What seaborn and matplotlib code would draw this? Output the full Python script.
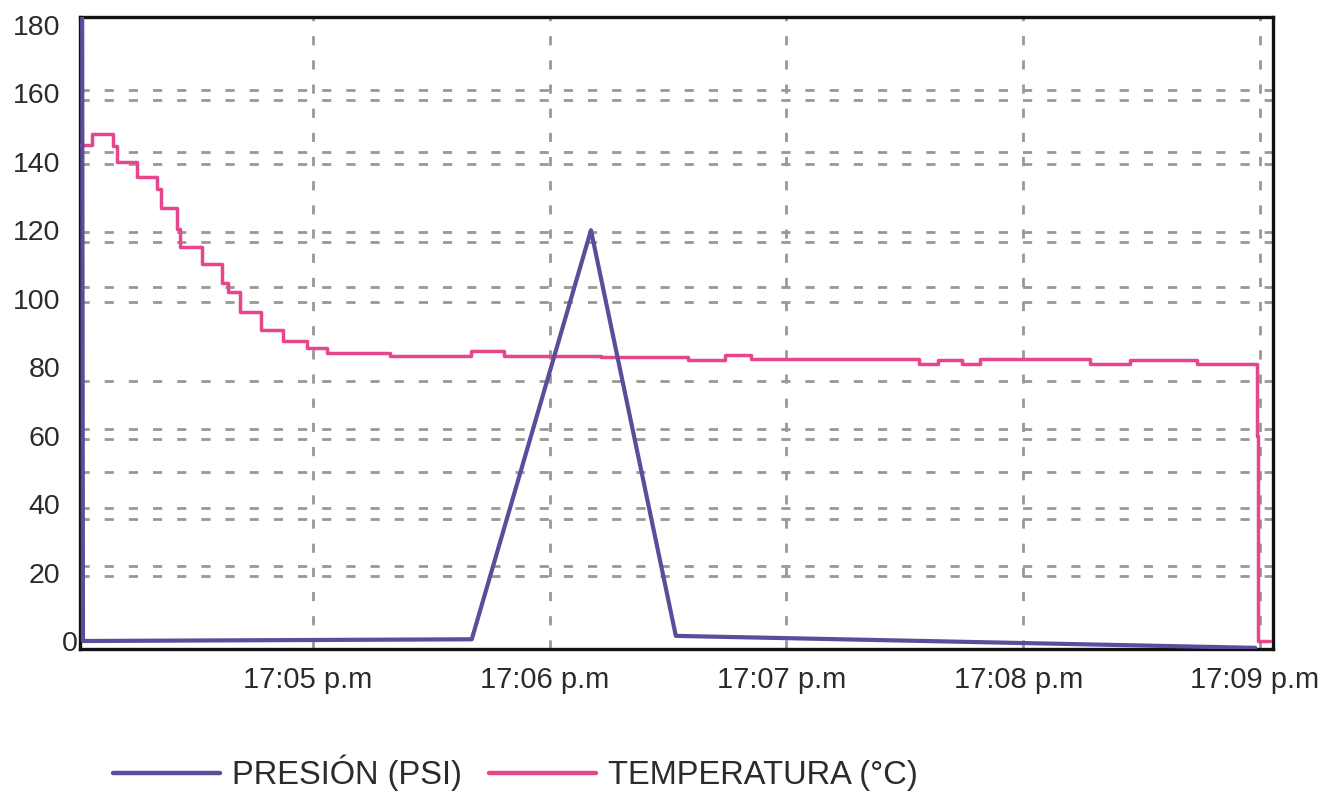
import matplotlib
matplotlib.use('Agg')
from matplotlib import pyplot as plt
from matplotlib.transforms import ScaledTranslation
import seaborn as sns

sns.set_style('white')
plt.rcParams['font.family'] = ['Liberation Sans', 'DejaVu Sans']

# time axis in seconds after 17:04:00
pres_t = [1.6, 1.8, 100.3, 130.5, 152.0, 298.8]
pres_v = [185, 0, 0.5, 120, 1.5, -2]

temp_t = [1, 4, 9.5, 10.5, 15.5, 20.5, 21.5, 25.5, 26.5, 32,
          37, 38.5, 41.5, 47, 52.5, 58.5, 63.5, 79.5, 100, 108.5,
          133, 155, 164.5, 171, 213.5, 218.5, 224.5, 229, 257, 267,
          284, 299.2, 299.6, 302.5]
temp_v = [145, 148, 144.5, 140, 135.5, 132, 126.5, 120.5, 115, 110,
          104.5, 102, 96, 91, 87.5, 85.5, 84, 83.3, 84.7, 83.3,
          83, 82, 83.5, 82.3, 81, 82, 81, 82.5, 81, 82,
          81, 60, 0, 0]

tick_t = [60, 120, 180, 240, 300]
tick_labels = ['17:05 p.m', '17:06 p.m', '17:07 p.m', '17:08 p.m', '17:09 p.m']
y_ticks = list(range(0, 181, 20))

PURPLE = '#5b4c9c'
PINK = '#e8468c'
GRID = '#9c9792'
TEXT = '#2b2b2b'
# the doubled dashed lines of the original
grid_y = [180, 161, 158, 143, 139.5, 119.5, 116.5, 103.5, 99, 80, 76,
          62, 59, 49.5, 39, 35.5, 22, 19]
dash = (0, (3.3, 5.4))

fig, ax = plt.subplots(figsize=(13.24, 7.98), dpi=100)
fig.subplots_adjust(left=0.0604, right=0.9615, top=0.9787, bottom=0.1867)

sns.lineplot(x=temp_t, y=temp_v, ax=ax, color=PINK, lw=2.5, drawstyle='steps-post',
             sort=False, estimator=None, label='TEMPERATURA (°C)', zorder=3)
sns.lineplot(x=pres_t, y=pres_v, ax=ax, color=PURPLE, lw=3.0,
             sort=False, estimator=None, label='PRESIÓN (PSI)', zorder=4)

ax.set_xlim(1.04, 303.3)
ax.set_ylim(-2.34, 182.3)
ax.set_xticks(tick_t, tick_labels)
ax.set_yticks(y_ticks)
ax.set_yticks(grid_y, minor=True)
ax.set_xlabel('')
ax.set_ylabel('')

ax.grid(False)
ax.set_axisbelow(True)
ax.xaxis.grid(True, which='major', color=GRID, lw=2.0, ls=dash)
ax.yaxis.grid(True, which='minor', color=GRID, lw=2.0, ls=dash)
ax.tick_params(axis='both', which='both', length=0)
ax.tick_params(axis='x', labelsize=21, pad=12.5, labelcolor=TEXT)
ax.tick_params(axis='y', labelsize=20.5, pad=14, labelcolor=TEXT)

for s in ax.spines.values():
    s.set_visible(True)
    s.set_color('#111111')
    s.set_linewidth(2.4)

# the "0" label sits tucked against the axis in the original
zero = ax.get_yticklabels()[0]
zero.set_transform(zero.get_transform() + ScaledTranslation(0.17, 0, fig.dpi_scale_trans))
for lab in ax.get_xticklabels():
    lab.set_transform(lab.get_transform() + ScaledTranslation(-0.05, 0, fig.dpi_scale_trans))

handles, labels = ax.get_legend_handles_labels()
ax.get_legend().remove()
leg = fig.legend(handles[::-1], labels[::-1], loc='center left', ncol=2,
                 bbox_to_anchor=(113 / 1324, 1 - 773 / 798), bbox_transform=fig.transFigure,
                 frameon=False, borderpad=0, borderaxespad=0, fontsize=23.5,
                 handlelength=3.28, handletextpad=0.37, columnspacing=0.83)
for t in leg.get_texts():
    t.set_color(TEXT)
for h in leg.get_lines():
    h.set_linewidth(3.2)

fig.savefig('out.png', dpi=100)
